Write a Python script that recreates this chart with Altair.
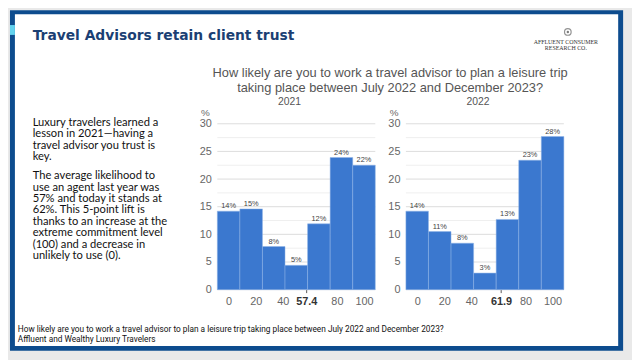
import altair as alt
import pandas as pd

# ---------------- data ----------------
scores = [0, 16.667, 33.333, 50, 66.667, 83.333, 100]
share_2021 = [14.2, 14.6, 7.8, 4.4, 11.9, 23.9, 22.5]
share_2022 = [14.2, 10.5, 8.4, 3.0, 12.7, 23.4, 27.7]
labels_2021 = ["14%", "15%", "8%", "5%", "12%", "24%", "22%"]
labels_2022 = ["14%", "11%", "8%", "3%", "13%", "23%", "28%"]
mean_2021 = 57.4
mean_2022 = 61.9
x_ticks = [0, 20, 40, 80, 100]
y_labels = [0, 5, 10, 15, 20, 25, 30]
y_grid = [0, 2.5, 5, 7.5, 10, 12.5, 15, 17.5, 20, 22.5, 25, 27.5, 30]

slide_title = "Travel Advisors retain client trust"
logo_lines = ["AFFLUENT CONSUMER", "RESEARCH CO."]
question_lines = [
    "How likely are you to work a travel advisor to plan a leisure trip",
    "taking place between July 2022 and December 2023?",
]
para1 = ["Luxury travelers learned a", "lesson in 2021\u2014having a",
         "travel advisor you trust is", "key."]
para2 = ["The average likelihood to", "use an agent last year was",
         "57% and today it stands at", "62%. This 5-point lift is",
         "thanks to an increase at the", "extreme commitment level",
         "(100) and a decrease in", "unlikely to use (0)."]
footer_lines = [
    "How likely are you to work a travel advisor to plan a leisure trip taking place between July 2022 and December 2023?",
    "Affluent and Wealthy Luxury Travelers",
]

HALF = 8.3335
BAR = "#3b78cf"
AXIS_FONT = "Liberation Sans"
one = pd.DataFrame({"k": [0]})


def rect(x, x2, y, y2, color):
    return alt.Chart(one).mark_rect(color=color).encode(
        x=alt.value(x), x2=alt.value(x2), y=alt.value(y), y2=alt.value(y2))


def text(x, y, t, **kw):
    return alt.Chart(one).mark_text(**kw).encode(
        x=alt.value(x), y=alt.value(y), text=alt.value(t))


def panel(values, labels, mean, year):
    df = pd.DataFrame({"score": scores, "share": values, "label": labels})
    base = alt.Chart(df).transform_calculate(
        lo=f"datum.score - {HALF}", hi=f"datum.score + {HALF}")
    x_axis = alt.Axis(
        values=x_ticks[:3] + [mean] + x_ticks[3:], format=".1~f", title=None,
        grid=False, domain=False, ticks=True, tickSize=3, zindex=1,
        tickColor={"condition": {"test": f"datum.value == {mean}", "value": "#555"},
                   "value": "transparent"},
        labelFont=AXIS_FONT, labelFontSize=11, labelPadding=3,
        labelColor={"condition": {"test": f"datum.value == {mean}", "value": "#333"},
                    "value": "#666"},
        labelFontWeight={"condition": {"test": f"datum.value == {mean}", "value": "bold"},
                         "value": "normal"})
    x_scale = alt.Scale(domain=[-HALF, 100 + HALF], nice=False, zero=False)
    y_axis = alt.Axis(
        values=y_labels, title=None, ticks=False, domain=False, grid=False, zindex=1,
        labelFont=AXIS_FONT, labelFontSize=11, labelColor="#666", labelPadding=6)
    y_scale = alt.Scale(domain=[0, 30], nice=False)
    grid = alt.Chart(pd.DataFrame({"g": y_grid})).mark_rule(strokeWidth=1).encode(
        y=alt.Y("g:Q", scale=y_scale, axis=y_axis),
        x=alt.value(0), x2=alt.value(160),
        color=alt.condition("datum.g % 5 === 0", alt.value("#dcdcdc"), alt.value("#efefef")))
    bars = base.mark_rect(color=BAR, stroke="#8fb3e6", strokeWidth=0.5).encode(
        x=alt.X("lo:Q", scale=x_scale, axis=x_axis),
        x2="hi:Q",
        y=alt.Y("share:Q", scale=y_scale, axis=y_axis),
        y2=alt.datum(0))
    lbl = base.mark_text(fontSize=7.5, font=AXIS_FONT, color="#444", dy=-5).encode(
        x=alt.X("score:Q", scale=x_scale, axis=x_axis),
        y=alt.Y("share:Q", scale=y_scale, axis=y_axis),
        text="label:N")
    yr = text(73, -22, year, font=AXIS_FONT, fontSize=10.5, color="#555", align="center")
    pct = text(-12, -11, "%", font=AXIS_FONT, fontSize=10, color="#666", align="center",
               baseline="middle")
    return [yr, pct, grid, bars, lbl]


# decorations, in pixel offsets relative to the 2021 plot origin
deco = [
    rect(-212, 420, -115, 237, "#e9e9e9"),
    rect(-210, 411, -115, 230, "#0d4c8e"),
    rect(-205, 406, -111, 225, "#ffffff"),
    rect(-210, -205, -100, -90, "#62d2ee"),
    text(-187, -89, slide_title, font="DejaVu Sans", fontWeight="bold", fontSize=14,
         color="#1b3f73", align="left"),
    alt.Chart(one).mark_point(shape="circle", size=45, filled=False, color="#666",
                              strokeWidth=1.2).encode(x=alt.value(355), y=alt.value(-93)),
    alt.Chart(one).mark_point(shape="circle", size=6, filled=True, color="#444").encode(
        x=alt.value(355), y=alt.value(-93)),
    text(353, -83, logo_lines, font="Liberation Serif", fontSize=6, lineHeight=6.5,
         color="#333", align="center", baseline="middle"),
    text(175, -51, question_lines, font=AXIS_FONT, fontSize=13, lineHeight=15,
         color="#555", align="center"),
    text(-187, -1, para1, font="Lato", fontSize=11.3, lineHeight=11.6, color="#111",
         align="left"),
    text(-187, 53, para2, font="Lato", fontSize=11.3, lineHeight=11.6, color="#111",
         align="left"),
    text(-202, 208, footer_lines, font="Roboto", fontSize=8.4, lineHeight=10.5,
         color="#111", align="left"),
]

left = alt.layer(*(deco + panel(share_2021, labels_2021, mean_2021, "2021"))).properties(
    width=160, height=168)
right = alt.layer(*panel(share_2022, labels_2022, mean_2022, "2022")).properties(
    width=160, height=168)

chart = alt.hconcat(left, right, spacing=31, bounds="flush").properties(
    padding=0, background="#e9e9e9"
).configure_view(stroke=None)

chart.save("out.html", embed_options={"renderer": "svg", "actions": False})
